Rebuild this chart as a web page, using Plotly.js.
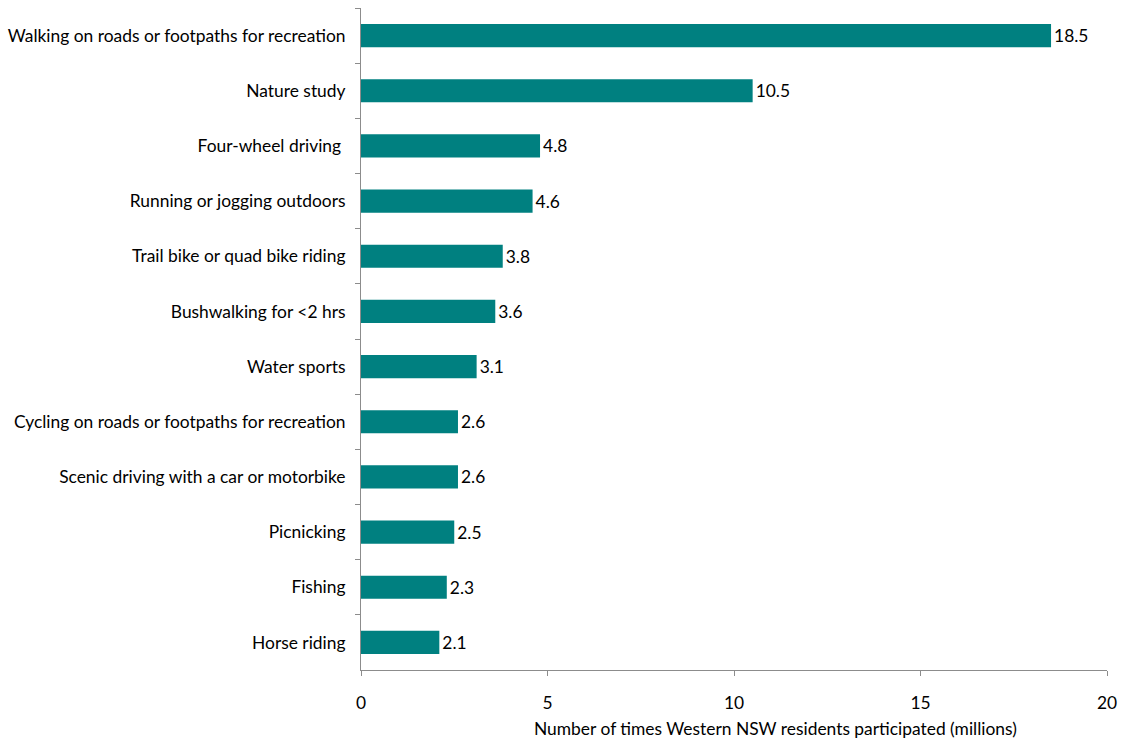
<!DOCTYPE html>
<html>
<head>
<meta charset="utf-8">
<script src="https://cdn.plot.ly/plotly-3.0.1.min.js"></script>
<style>html,body{margin:0;padding:0;background:#fff;}#chart{width:1125px;height:742px;}</style>
</head>
<body>
<div id="chart"></div>
<script>
const categories = [
  "Walking on roads or footpaths for recreation",
  "Nature study",
  "Four-wheel driving ",
  "Running or jogging outdoors",
  "Trail bike or quad bike riding",
  "Bushwalking for <2 hrs",
  "Water sports",
  "Cycling on roads or footpaths for recreation",
  "Scenic driving with a car or motorbike",
  "Picnicking",
  "Fishing",
  "Horse riding"
];
const values = [18.5, 10.5, 4.8, 4.6, 3.8, 3.6, 3.1, 2.6, 2.6, 2.5, 2.3, 2.1];
const xTitle = "Number of times Western NSW residents participated (millions)";

const fontFam = "Lato, 'Open Sans', sans-serif";
const fs = 17.4;
Plotly.newPlot("chart", [{
  type: "bar",
  orientation: "h",
  y: categories,
  x: values,
  marker: {color: "#008080"},
  text: values.map(v => v.toFixed(1)),
  textposition: "outside",
  cliponaxis: false,
  textfont: {family: fontFam, size: fs, color: "#000"},
  hoverinfo: "skip"
}], {
  width: 1125, height: 742,
  margin: {l: 361, r: 18, t: 8, b: 72},
  paper_bgcolor: "#fff", plot_bgcolor: "#fff",
  bargap: 0.58,
  showlegend: false,
  font: {family: fontFam, size: fs, color: "#000"},
  annotations: [{
    text: xTitle, xref: "paper", yref: "paper",
    x: 0.555, y: 0, yshift: -58,
    xanchor: "center", yanchor: "middle",
    showarrow: false,
    font: {family: fontFam, size: fs, color: "#000"}
  }],
  xaxis: {
    range: [0, 20], dtick: 5, tick0: 0,
    showgrid: false, zeroline: false,
    showline: true, linecolor: "#8c8c8c", linewidth: 1,
    ticks: "outside", ticklen: 5, tickcolor: "#8c8c8c",
    ticklabelstandoff: 12,
    tickfont: {family: fontFam, size: fs, color: "#000"},
    fixedrange: true
  },
  yaxis: {
    type: "category",
    autorange: "reversed",
    showgrid: false, zeroline: false,
    showline: true, linecolor: "#8c8c8c", linewidth: 1,
    ticks: "outside", ticklen: 5, tickcolor: "#8c8c8c",
    tickson: "boundaries",
    ticklabelstandoff: 11,
    tickfont: {family: fontFam, size: fs, color: "#000"},
    fixedrange: true
  }
}, {displayModeBar: false, staticPlot: true});
</script>
</body>
</html>
